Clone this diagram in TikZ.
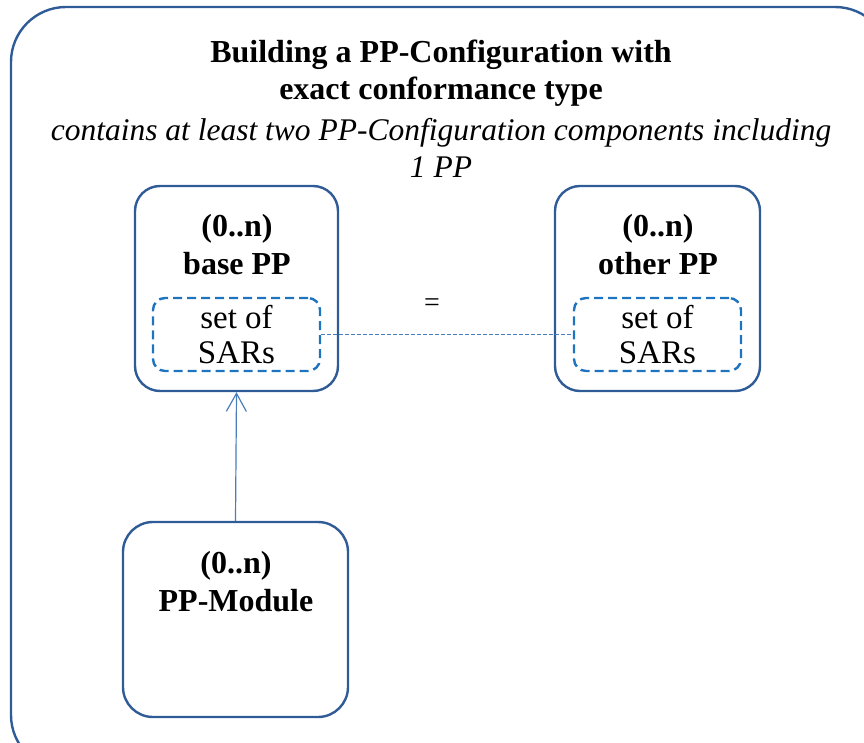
\documentclass[tikz,border=0pt]{standalone}
\usepackage{fontspec}
\setmainfont{Liberation Serif}
\usetikzlibrary{arrows.meta}
\definecolor{frameblue}{HTML}{2F5C97}
\definecolor{sarblue}{HTML}{1F74C0}
\definecolor{linkblue}{HTML}{4A7EBB}
\tikzset{
  ppbox/.style={draw=frameblue, line width=2.4pt, rounded corners=25pt, inner sep=0pt},
  sarbox/.style={draw=sarblue, line width=2.4pt, dash pattern=on 9pt off 5pt, rounded corners=12pt,
    minimum width=167pt, minimum height=73pt, inner sep=0pt},
  boxtext/.style={font=\fontsize{32}{38}\selectfont\bfseries, align=center},
  sartext/.style={font=\fontsize{33}{35}\selectfont, align=center},
}

\begin{document}
\begin{tikzpicture}[x=1pt, y=-1pt]
		%%%%% frame %%%%%
		\clip (0, 0) rectangle (864, 743);
		\draw[frameblue, line width=2.4pt, rounded corners=55pt] (11, 7) rectangle (890, 770);
		
		\node[boxtext, font=\fontsize{32}{37}\selectfont\bfseries] (title) at (441, 73.5) {Building a PP-Configuration with\\exact conformance type};
		\node[sartext, font=\fontsize{31.5}{37}\selectfont\itshape] (subtitle) at (441, 148) {contains at least two PP-Configuration components including\\1 PP};
		
		%%%%% PP boxes %%%%%
		\node[ppbox, minimum width=203pt, minimum height=205pt] (basepp) at (236.5, 288.5) {};
		\node[ppbox, minimum width=205pt, minimum height=205pt] (otherpp) at (657.5, 288.5) {};
		\node[ppbox, rounded corners=30pt, minimum width=225pt, minimum height=195pt] (module) at (235.5, 619.5) {};
		
		\node[boxtext] (basetxt) at (237, 245) {(0..n)\\base PP};
		\node[boxtext] (othertxt) at (658, 245) {(0..n)\\other PP};
		\node[boxtext] (moduletxt) at (236, 582) {(0..n)\\PP-Module};
		
		%%%%% SAR sets %%%%%
		\node[sarbox] (basesar) at (236.5, 334.5) {};
		\node[sarbox] (othersar) at (657.5, 334.5) {};
		\node[sartext] at (basesar) {set of\\SARs};
		\node[sartext] at (othersar) {set of\\SARs};
		
		\draw[linkblue, line width=1pt, dash pattern=on 4pt off 2pt] (basesar.east) -- (othersar.west);
		\node[font=\fontsize{28}{30}\selectfont] (eq) at (432, 305) {=};
		
		\draw[linkblue, line width=1.2pt, -{Straight Barb[length=18pt, width=20pt]}] (module.north) -- (basepp.south);
		
		%%%%% END %%%%%
	\end{tikzpicture}
\end{document}
